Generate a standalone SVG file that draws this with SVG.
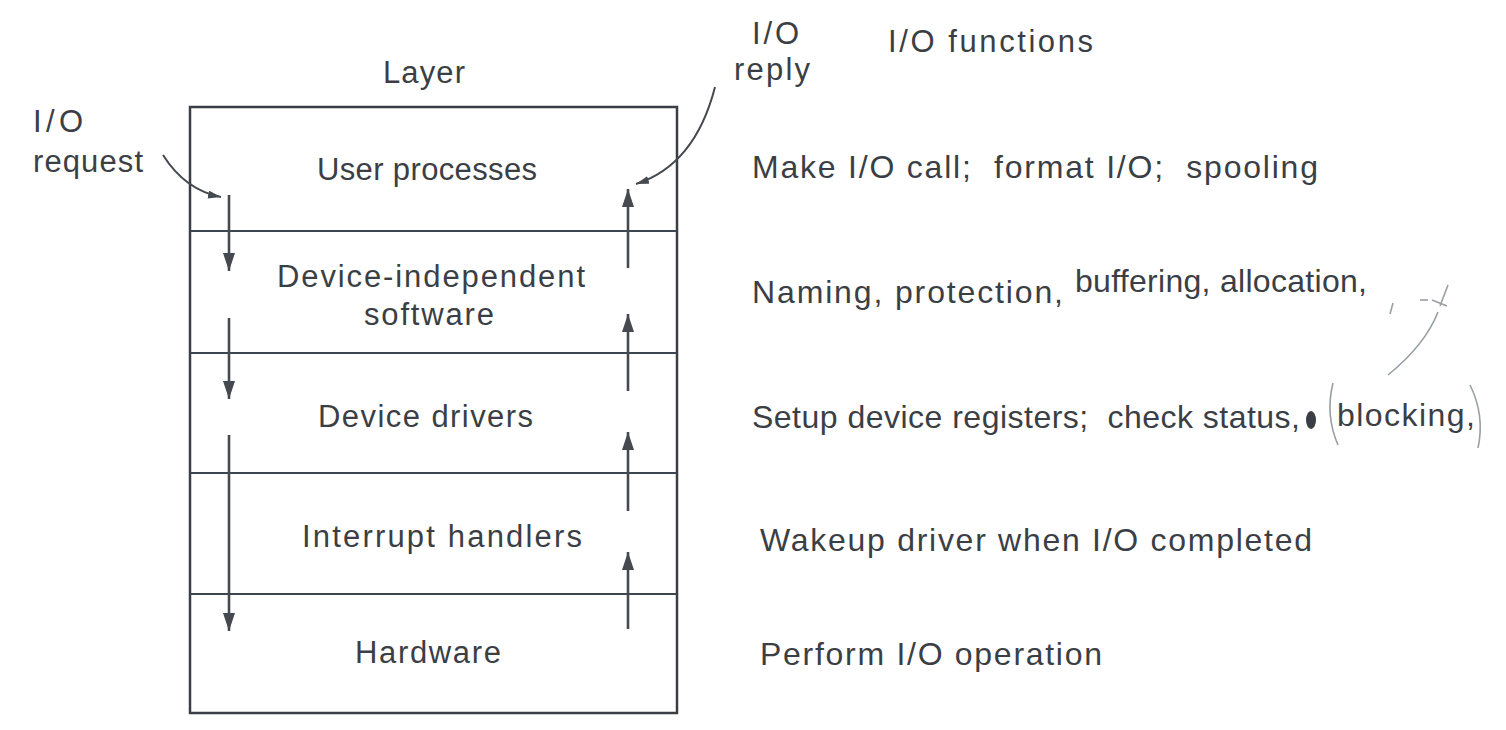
<svg xmlns="http://www.w3.org/2000/svg" width="1506" height="730" viewBox="0 0 1506 730">
<style>
.t{font-family:"Liberation Sans",Arial,sans-serif;font-size:31px;fill:#3b3f45;white-space:pre}
.r{font-size:32px}
.frame{fill:none;stroke:#3b3f45;stroke-width:2.5}
.div{stroke:#3b4650;stroke-width:2.2}
.arr{stroke:#454a50;stroke-width:2.6;fill:none;marker-end:url(#ah)}
.cur{stroke:#454a50;stroke-width:2;fill:none;marker-end:url(#ahs)}
.hand{stroke:#9a9fa4;stroke-width:1.6;fill:none}
</style>
<defs>
<marker id="ah" markerUnits="userSpaceOnUse" markerWidth="20" markerHeight="12" refX="18" refY="6" orient="auto">
<path d="M0,0 L18,6 L0,12 z" fill="#454a50"/>
</marker>
<marker id="ahs" markerUnits="userSpaceOnUse" markerWidth="14" markerHeight="10" refX="13" refY="4" orient="auto">
<path d="M0,0 L13,4 L0,8 z" fill="#454a50"/>
</marker>
</defs>
<rect width="1506" height="730" fill="#ffffff"/>

<g id="header">
<text class="t" x="383" y="83" textLength="82" lengthAdjust="spacing">Layer</text>
<text class="t" x="752" y="44" textLength="47" lengthAdjust="spacing">I/O</text>
<text class="t" x="734" y="80" textLength="76" lengthAdjust="spacing">reply</text>
<text class="t" x="888" y="52" textLength="205" lengthAdjust="spacing">I/O functions</text>
<text class="t" x="33" y="132" textLength="50" lengthAdjust="spacing">I/O</text>
<text class="t" x="33" y="172" textLength="110" lengthAdjust="spacing">request</text>
</g>

<g id="stack">
<rect class="frame" x="190" y="107" width="487" height="606"/>
</g>
<g id="layer-user">
<line class="div" x1="190" y1="231" x2="677" y2="231"/>
<text class="t" x="317" y="180" textLength="220" lengthAdjust="spacing">User processes</text>
</g>
<g id="layer-devind">
<line class="div" x1="190" y1="353" x2="677" y2="353"/>
<text class="t" x="277" y="287" textLength="308" lengthAdjust="spacing">Device-independent</text>
<text class="t" x="364" y="325" textLength="130" lengthAdjust="spacing">software</text>
</g>
<g id="layer-drivers">
<line class="div" x1="190" y1="473" x2="677" y2="473"/>
<text class="t" x="318" y="427" textLength="215" lengthAdjust="spacing">Device drivers</text>
</g>
<g id="layer-interrupt">
<line class="div" x1="190" y1="594" x2="677" y2="594"/>
<text class="t" x="302" y="547" textLength="280" lengthAdjust="spacing">Interrupt handlers</text>
</g>
<g id="layer-hardware">
<text class="t" x="355" y="663" textLength="146" lengthAdjust="spacing">Hardware</text>
</g>

<g id="functions">
<text class="t r" x="752" y="178" textLength="566" lengthAdjust="spacing">Make I/O call;  format I/O;  spooling</text>
<text class="t r" x="752" y="303" textLength="311" lengthAdjust="spacing">Naming, protection,</text>
<text class="t r" x="1075" y="292" textLength="292" lengthAdjust="spacing">buffering, allocation,</text>
<text class="t r" x="752" y="428" textLength="548" lengthAdjust="spacing">Setup device registers;  check status,</text>
<text class="t r" x="1337" y="426" textLength="138" lengthAdjust="spacing">blocking,</text>
<text class="t r" x="760" y="551" textLength="552" lengthAdjust="spacing">Wakeup driver when I/O completed</text>
<text class="t r" x="760" y="665" textLength="342" lengthAdjust="spacing">Perform I/O operation</text>
</g>

<g id="connectors">
<path class="cur" d="M163,155 Q185,190 221,197"/>
<path class="cur" d="M715,87 Q695,165 636,184"/>
<line class="arr" x1="229" y1="195" x2="229" y2="271"/>
<line class="arr" x1="229" y1="318" x2="229" y2="399"/>
<line class="arr" x1="229" y1="435" x2="229" y2="631"/>
<line class="arr" x1="628" y1="268" x2="628" y2="189"/>
<line class="arr" x1="628" y1="391" x2="628" y2="314"/>
<line class="arr" x1="628" y1="511" x2="628" y2="432"/>
<line class="arr" x1="628" y1="629" x2="628" y2="552"/>
</g>

<g id="annotations">
<path class="hand" d="M1393,303 L1390,314"/>
<path class="hand" d="M1420,300 L1428,300" stroke="#6a6f74"/>
<path class="hand" d="M1448,285 L1440,306 M1432,300 L1447,306" stroke="#6a6f74"/>
<path class="hand" d="M1388,375 Q1425,345 1438,312"/>
<path class="hand" d="M1333,383 Q1325,415 1338,445"/>
<path class="hand" d="M1470,385 Q1485,415 1478,448"/>
<ellipse cx="1311" cy="420" rx="5" ry="9" fill="#3b3f45"/>
</g>
</svg>
